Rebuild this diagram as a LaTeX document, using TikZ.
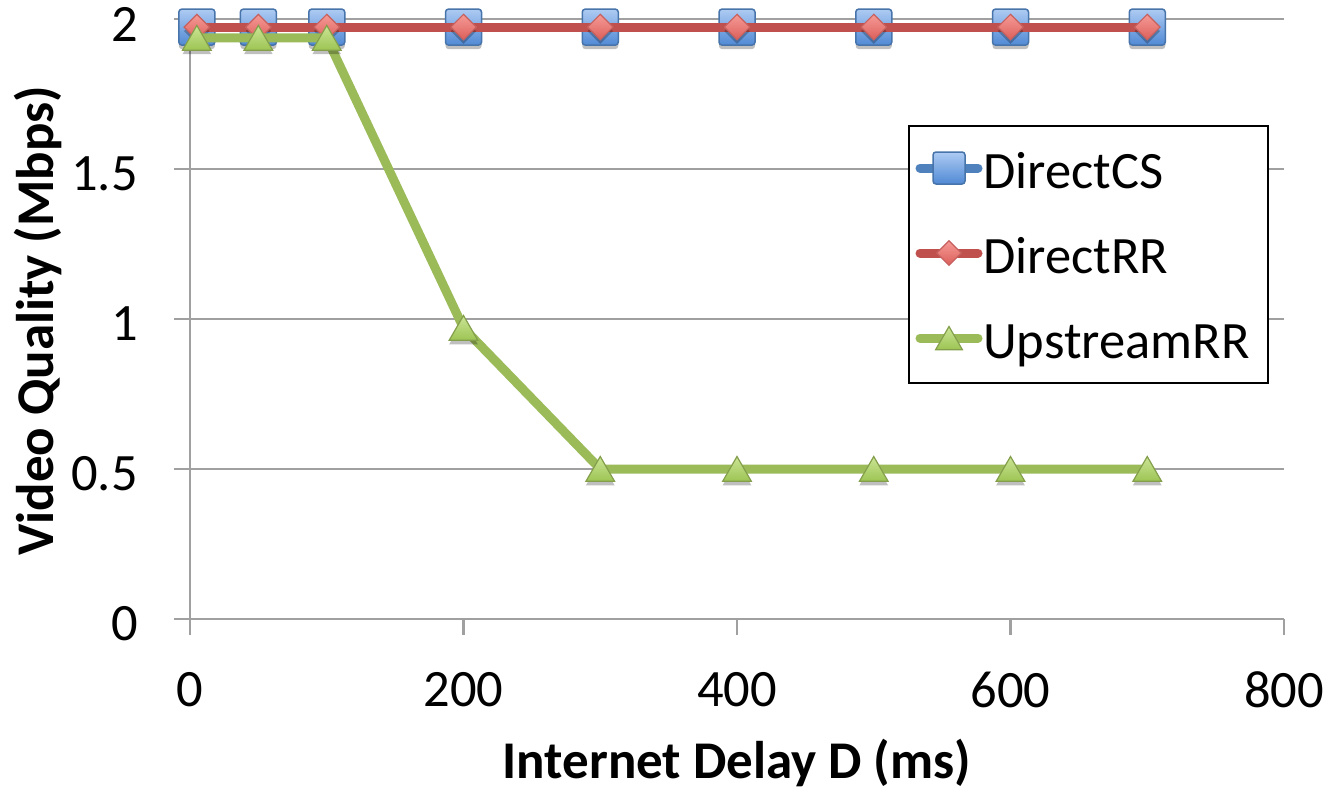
\documentclass[tikz,border=0pt]{standalone}
\usepackage{fontspec}
\setmainfont{Carlito}
\usetikzlibrary{shapes.geometric,shadows}

\definecolor{gridgray}{HTML}{A0A0A0}
\definecolor{csblue}{HTML}{4F81BD}
\definecolor{cstop}{HTML}{AECBF3}
\definecolor{csbot}{HTML}{5089D4}
\definecolor{rrred}{HTML}{C0504D}
\definecolor{rrtop}{HTML}{F59A96}
\definecolor{rrbot}{HTML}{DC5F5A}
\definecolor{upgreen}{HTML}{9BBB59}
\definecolor{uptop}{HTML}{CBE596}
\definecolor{upbot}{HTML}{9DC453}

\tikzset{
  bigfont/.style={font=\fontsize{52.5}{60}\selectfont},
  titlefont/.style={font=\fontsize{53}{62}\selectfont\bfseries},
  gridline/.style={draw=gridgray, line width=2.5pt},
  csline/.style={draw=csblue, line width=9pt, line join=round},
  rrline/.style={draw=rrred, line width=9pt, line join=round},
  upline/.style={draw=upgreen, line width=9pt, line join=round},
  legline/.style={line width=9pt, line cap=round},
  mshadow/.style={drop shadow={shadow xshift=0pt, shadow yshift=-4pt, opacity=0.25, fill=black}},
  csmark/.style={rectangle, inner sep=0pt, minimum size=#1, rounded corners=3pt,
    top color=cstop, bottom color=csbot, draw=csblue!90!black, line width=1.5pt},
  csmark/.default=36pt,
  rrmark/.style={diamond, inner sep=0pt, minimum width=#1, minimum height=#1,
    top color=rrtop, bottom color=rrbot, draw=rrred!90!white, line width=1.2pt},
  rrmark/.default=26pt,
  upmark/.style={regular polygon, regular polygon sides=3, inner sep=0pt,
    minimum size=#1, yshift=-4pt,
    top color=uptop, bottom color=upbot, draw=upgreen!85!black, line width=1.2pt},
  upmark/.default=33pt,
  ticklab/.style={bigfont, inner sep=0pt},
}

\begin{document}
\begin{tikzpicture}[x=1pt, y=-1pt]
  \useasboundingbox (0,0) rectangle (1331,790);
  \fill[white] (0,0) rectangle (1331,790);

  % horizontal grid lines (y = 0 line is the x axis)
  \foreach \gy in {19,169,319,469,619}
    \draw[gridline] (174,\gy) -- (1284,\gy);
  % y axis
  \draw[gridline] (190,19) -- (190,635);
  % x axis ticks
  \foreach \gx in {190,463.5,737,1010.5,1284}
    \draw[gridline] (\gx,619) -- (\gx,635);

  % y tick labels
  \node[ticklab, anchor=east] (y0)  at (138,624) {0};
  \node[ticklab, anchor=east] (y05) at (138,474) {0.5};
  \node[ticklab, anchor=east] (y1)  at (138,324) {1};
  \node[ticklab, anchor=east] (y15) at (138,174) {1.5};
  \node[ticklab, anchor=east] (y2)  at (138,24)  {2};

  % x tick labels
  \node[ticklab] (x0)   at (190,690)    {0};
  \node[ticklab] (x200) at (463.5,690)  {200};
  \node[ticklab] (x400) at (737,690)    {400};
  \node[ticklab] (x600) at (1010.5,690) {600};
  \node[ticklab] (x800) at (1284,690)   {800};

  % axis titles
  \node[titlefont, inner sep=0pt, anchor=base] (xtitle) at (737,778) {Internet Delay D (ms)};
  \node[titlefont, inner sep=0pt, anchor=base, rotate=90] (ytitle) at (53,321) {Video Quality (Mbps)};

  % data, in axis units
  \begin{scope}[shift={(190pt,-619pt)}, x=1.3675pt, y=300pt]
    \foreach \v [count=\i] in {5,50,100,200,300,400,500,600,700} {
      \coordinate (cs\i) at (\v,1.973);
      \coordinate (rr\i) at (\v,1.973);
    }
    \foreach \v/\q [count=\i] in {5/1.937,50/1.937,100/1.937,200/0.97,300/0.5,400/0.5,500/0.5,600/0.5,700/0.5}
      \coordinate (up\i) at (\v,\q);
  \end{scope}

  % DirectCS
  \draw[csline] (cs1) \foreach \i in {2,...,9} { -- (cs\i) };
  \foreach \i in {1,...,9} \node[csmark, mshadow] (csm\i) at (cs\i) {};
  % DirectRR
  \draw[rrline] (rr1) \foreach \i in {2,...,9} { -- (rr\i) };
  \foreach \i in {1,...,9} \node[rrmark, mshadow] (rrm\i) at (rr\i) {};
  % UpstreamRR
  \draw[upline] (up1) \foreach \i in {2,...,9} { -- (up\i) };
  \foreach \i in {1,...,9} \node[upmark, mshadow] (upm\i) at (up\i) {};

  % legend
  \node[draw=black, line width=2pt, fill=white, inner sep=0pt, anchor=north west,
        minimum width=359pt, minimum height=257pt] (legend) at (908,125) {};

  \coordinate (lcsA) at (920,168);  \coordinate (lcsB) at (978,168);
  \coordinate (lrrA) at (920,253);  \coordinate (lrrB) at (978,253);
  \coordinate (lupA) at (920,338);  \coordinate (lupB) at (978,338);

  \draw[legline, draw=csblue]  (lcsA) -- (lcsB);
  \node[csmark=32pt] (lcs) at (949,168) {};
  \node[bigfont, inner sep=0pt, anchor=base west] (tcs) at (983,188) {DirectCS};

  \draw[legline, draw=rrred]   (lrrA) -- (lrrB);
  \node[rrmark=25pt] (lrr) at (949,253) {};
  \node[bigfont, inner sep=0pt, anchor=base west] (trr) at (983,273) {DirectRR};

  \draw[legline, draw=upgreen] (lupA) -- (lupB);
  \node[upmark=31pt] (lup) at (949,338) {};
  \node[bigfont, inner sep=0pt, anchor=base west] (tup) at (983,358) {UpstreamRR};
\end{tikzpicture}
\end{document}
